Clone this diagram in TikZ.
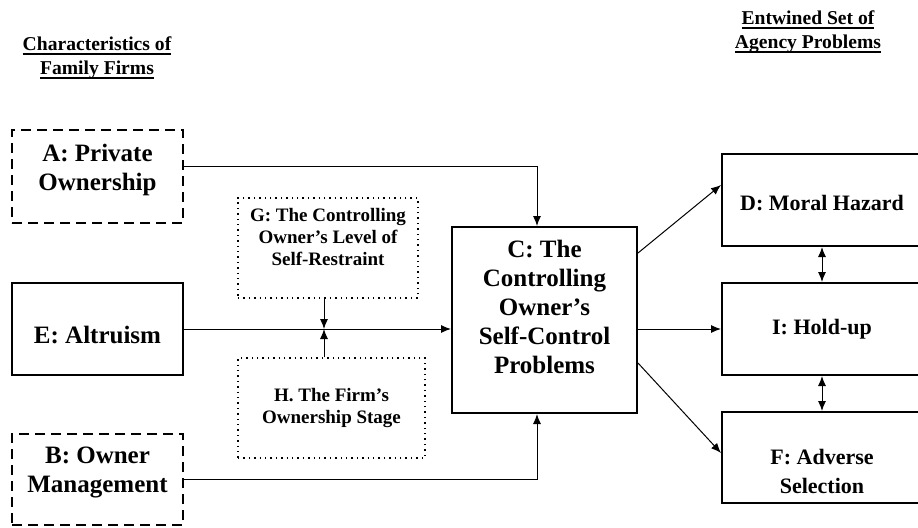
\documentclass[tikz,border=0pt]{standalone}
\usepackage{fontspec}
\setmainfont{Liberation Serif}
\newcommand{\hul}[1]{\sbox0{#1}\rlap{\usebox0}\raisebox{-2.2pt}{\rule{\wd0}{0.9pt}}}
\usetikzlibrary{arrows.meta}

\begin{document}
\begin{tikzpicture}[x=0.5pt,y=-0.5pt,
    box/.style={draw,line width=1pt,align=center,font=\bfseries\fontsize{12.5}{14.5}\selectfont,inner sep=2pt},
    rbox/.style={box,font=\bfseries\fontsize{11}{14.5}\selectfont,minimum width=100pt},
    dashbox/.style={box,dash pattern=on 5pt off 3pt},
    dotbox/.style={draw,line width=0.7pt,dotted,align=center,font=\bfseries\fontsize{9.5}{11}\selectfont},
    head/.style={align=center,font=\bfseries\fontsize{9.8}{12}\selectfont},
    arr/.style={line width=0.5pt,-{Latex[length=5pt,width=4pt]}},
    dblarr/.style={line width=0.5pt,{Latex[length=5pt,width=4pt]}-{Latex[length=5pt,width=4pt]}}]
  \useasboundingbox (0,0) rectangle (918,527);

  % Headings
  \node[head] (hl) at (97,58) {\hul{Characteristics of}\\\hul{Family Firms}};
  \node[head] (hr) at (808,32) {\hul{Entwined Set of}\\\hul{Agency Problems}};

  % Characteristics
  \node[dashbox,minimum width=85.5pt,minimum height=46.5pt,text depth=9pt] (A) at (97.5,176.5) {A: Private\\Ownership};
  \node[box,minimum width=85.5pt,minimum height=46pt,text height=14.5pt] (E) at (97.5,329) {E: Altruism};
  \node[dashbox,minimum width=85.5pt,minimum height=45.5pt,text depth=10pt] (B) at (97.5,479.5) {B: Owner\\Management};

  % Moderators
  \node[dotbox,minimum width=90pt,minimum height=50pt,text depth=11pt] (G) at (328,248) {G: The Controlling\\Owner's Level of\\Self-Restraint};
  \node[dotbox,minimum width=93.5pt,minimum height=50pt] (H) at (331.5,408) {H. The Firm's\\Ownership Stage};

  % Self-control problems
  \node[box,minimum width=92.5pt,minimum height=93pt,text depth=13pt] (C) at (544.5,320) {C: The\\Controlling\\Owner's\\Self-Control\\Problems};

  % Agency problems
  \node[rbox,minimum height=46pt,text height=11pt] (D) at (822,200) {D: Moral Hazard};
  \node[rbox,minimum height=46pt] (I) at (822,329) {I: Hold-up};
  \node[rbox,minimum height=45.5pt,text height=36pt] (F) at (822,457.5) {F: Adverse\\Selection};

  % Arrows into C
  \coordinate (m) at (324,329);
  \draw[arr] ([yshift=5.25pt]A.east) -| ([xshift=-3.75pt]C.north);
  \draw[arr] (E.east) -- (E.east -| C.west);
  \draw[arr] (B.east) -| ([xshift=-3.75pt]C.south);
  \draw[arr] (G.south -| m) -- (m);
  \draw[arr] (H.north -| m) -- (m);

  % Arrows out of C
  \draw[arr] ([yshift=33.5pt]C.east) -- ([yshift=7.5pt]D.west);
  \draw[arr] (I.west -| C.east) -- (I.west);
  \draw[arr] ([yshift=-21.5pt]C.east) -- ([yshift=2.25pt]F.west);
  \draw[dblarr] (D.south) -- (I.north);
  \draw[dblarr] (I.south) -- (F.north);
\end{tikzpicture}
\end{document}
